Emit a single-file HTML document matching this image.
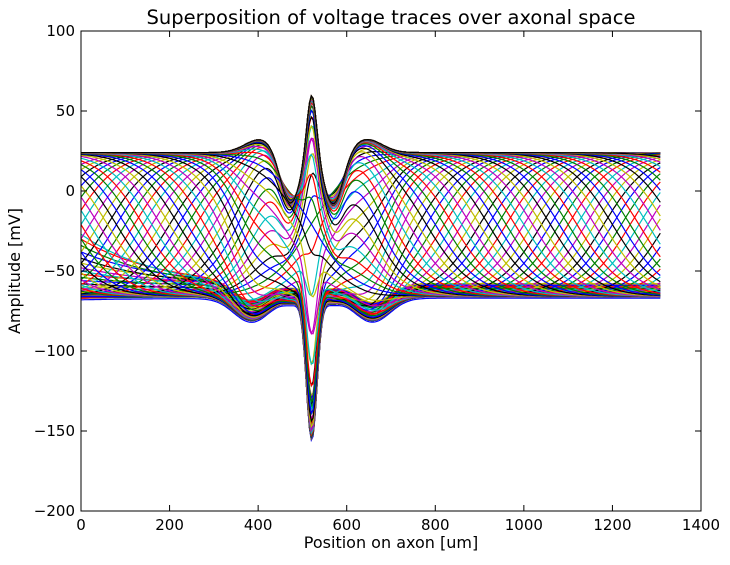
<!DOCTYPE html>
<html><head><meta charset="utf-8"><style>
body{margin:0;background:#fff;}
svg text{font-family:"DejaVu Sans","Liberation Sans",sans-serif;}
</style></head><body>
<svg id="chart" width="730" height="560" viewBox="0 0 730 560" xmlns="http://www.w3.org/2000/svg">
<rect x="0" y="0" width="730" height="560" fill="#fff"/>
<text x="391" y="24" font-size="19.5" text-anchor="middle">Superposition of voltage traces over axonal space</text>
<text x="391" y="548" font-size="16" text-anchor="middle">Position on axon [um]</text>
<text transform="translate(20,271) rotate(-90)" font-size="16" text-anchor="middle">Amplitude [mV]</text>
<clipPath id="clip"><rect x="81" y="31" width="620" height="480"/></clipPath>
<g id="traces" clip-path="url(#clip)"></g>
<g id="axes"></g>
</svg>
<script>
// data
const xTicks = [0,200,400,600,800,1000,1200,1400];
const yTicks = [-200,-150,-100,-50,0,50,100];
const fallingFronts = [];  // position where a depolarised plateau ends (um)
for (let p = -160; p <= 1480; p += 20) fallingFronts.push(p);
const risingFronts = [];   // position where a trace rises to the plateau (um)
for (let q = -120; q <= 1480; q += 20) risingFronts.push(q);
// near-rest traces: level at x=0 and at x=1310 (mV)
const restStart = [-68,-67,-67,-66,-66,-65,-65,-64,-64,-63,-62,-61,-60,-58,-56,-54,-52,-50,-48,-45,-42,-38,-34,-30,-27];
const restEnd   = [-67,-66,-65,-66,-64,-65,-63,-64,-62,-63,-61,-62,-60,-61,-59,-60,-58,-60,-59,-58,-60,-59,-61,-60,-62];
// node anomaly amplitude as function of local voltage level at 520um
const anomalyLevel = [-66,-50,-30,0,24];
const anomalyAmp   = [-88,-55,-8,20,41];
const restV = -66, plateauV = 24, axonLength = 1310;

const X0=81,X1=701,Y0=511,Y1=31;
const sx = v => X0 + (v-0)/(1400-0)*(X1-X0);
const sy = v => Y0 - (v-(-200))/(100-(-200))*(Y0-Y1);
const colors = ['#0000ff','#008000','#ff0000','#00bfbf','#bf00bf','#bfbf00','#000000'];
const sig = z => 1/(1+Math.exp(-z));
const g = (x,m,s) => Math.exp(-((x-m)*(x-m))/(2*s*s));
function interp(xs, ys, x){
  if (x<=xs[0]) return ys[0];
  for (let i=1;i<xs.length;i++) if (x<=xs[i]) {const t=(x-xs[i-1])/(xs[i]-xs[i-1]); return ys[i-1]+t*(ys[i]-ys[i-1]);}
  return ys[ys.length-1];
}
function kernel(x,a){
  if (a>=0) return g(x,521,11) - 0.8*g(x,472,22) - 0.8*g(x,570,22) + 0.2*g(x,405,35) + 0.2*g(x,645,35);
  return g(x,521,12) + 0.04*g(x,480,20) + 0.04*g(x,562,20) + 0.17*g(x,385,40) + 0.17*g(x,658,40);
}
function draw(baseFn, i){
  const a = interp(anomalyLevel, anomalyAmp, baseFn(520));
  let d='';
  for (let x=0;x<=axonLength;x+=4){
    const v = baseFn(x) + a*kernel(x,a);
    d += (x? 'L':'M') + sx(x).toFixed(1)+','+sy(v).toFixed(1);
  }
  const path=document.createElementNS('http://www.w3.org/2000/svg','path');
  path.setAttribute('d',d);
  path.setAttribute('fill','none');
  path.setAttribute('stroke',colors[i%7]);
  path.setAttribute('stroke-width','1.2');
  
  
  document.getElementById('traces').appendChild(path);
}
let idx=0;
restStart.forEach((s,k)=>{
  const e = restEnd[k];
  draw(x => e + (s-e)*Math.exp(-x/180), idx++);
});
risingFronts.forEach(q=>{
  draw(x => restV + (plateauV-restV)*sig((x-q)/50), idx++);
});
fallingFronts.forEach(p=>{
  draw(x => restV + (plateauV-restV)*sig((p-x)/50), idx++);
});
const ag=document.getElementById('axes');
const NS='http://www.w3.org/2000/svg';
function el(tag,attrs,txt){const e=document.createElementNS(NS,tag);for(const k in attrs)e.setAttribute(k,attrs[k]);if(txt!==undefined)e.textContent=txt;ag.appendChild(e);return e;}
const frame=el('rect',{x:X0,y:Y1,width:X1-X0,height:Y0-Y1,fill:'none',stroke:'#000','stroke-width':1});


xTicks.forEach(t=>{
  const x=sx(t);
  const l1=el('line',{x1:x,y1:Y0,x2:x,y2:Y0-6,stroke:'#000'});
  
  
  el('line',{x1:x,y1:Y1,x2:x,y2:Y1+6,stroke:'#000'});
  const tx=el('text',{x:x,y:Y0+19,'font-size':15,'text-anchor':'middle'},String(t));
  
  
});
yTicks.forEach(t=>{
  const y=sy(t);
  const l1=el('line',{x1:X0,y1:y,x2:X0+6,y2:y,stroke:'#000'});
  
  
  el('line',{x1:X1,y1:y,x2:X1-6,y2:y,stroke:'#000'});
  const tx=el('text',{x:X0-6,y:y+5,'font-size':15,'text-anchor':'end'},String(t).replace('-','\u2212'));
  
  
});
</script>
</body></html>
